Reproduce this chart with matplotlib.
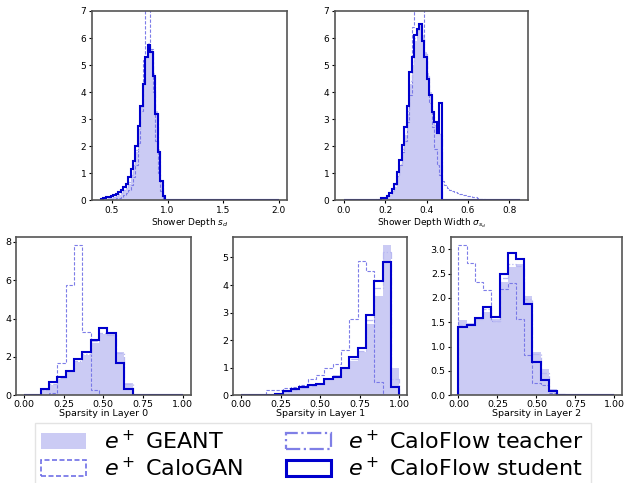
import numpy as np
import matplotlib
matplotlib.use("Agg")
import matplotlib.pyplot as plt
from matplotlib.patches import Patch

# ---- data: shower depth s_d (72 bins between 0.4 and 2.0) ----
sd_edges = np.linspace(0.4, 2.0, 73)
sd_geant = [0.03, 0.04, 0.05, 0.07, 0.09, 0.11, 0.15, 0.19, 0.25, 0.33, 0.44, 0.6,
            0.88, 1.25, 1.8, 2.6, 3.4, 4.3, 5.3, 5.8, 5.6, 4.7, 3.3, 1.9, 0.75, 0.15,
            0.02] + [0.0] * 45
sd_calogan = [0.01, 0.01, 0.02, 0.03, 0.04, 0.05, 0.07, 0.1, 0.14, 0.2, 0.27, 0.38,
              0.55, 0.85, 1.3, 2.1, 3.3, 5.2, 9.0, 8.6, 5.6, 4.0, 2.2, 1.0, 0.35, 0.05,
              0.01] + [0.0] * 45
sd_teacher = [0.04, 0.05, 0.06, 0.08, 0.1, 0.13, 0.17, 0.22, 0.28, 0.38, 0.5, 0.68,
              0.95, 1.3, 1.85, 2.65, 3.45, 4.3, 5.3, 5.7, 5.5, 4.6, 3.25, 1.85, 0.72,
              0.15, 0.02] + [0.0] * 45
sd_student = [0.06, 0.08, 0.11, 0.13, 0.16, 0.2, 0.25, 0.31, 0.38, 0.5, 0.62, 0.85,
              1.15, 1.45, 2.0, 2.75, 3.5, 4.3, 5.3, 5.75, 5.5, 4.6, 3.2, 1.8, 0.7, 0.15,
              0.02] + [0.0] * 45

# ---- data: shower depth width (70 bins between 0 and 0.85) ----
sw_edges = np.linspace(0.0, 0.85, 71)
sw_geant = [0.0] * 12 + [0.01, 0.02, 0.03, 0.05, 0.08, 0.13, 0.2, 0.32, 0.5, 0.85,
                         1.25, 1.8, 2.4, 3.2, 4.3, 5.0, 5.9, 6.3, 6.5, 6.1, 5.5, 4.7,
                         4.0, 3.3, 2.8, 2.45, 2.4] + [0.0] * 31
sw_calogan = [0.0] * 10 + [0.01, 0.01, 0.02, 0.03, 0.05, 0.08, 0.12, 0.2, 0.3, 0.45,
                           0.65, 0.9, 1.3, 1.8, 2.2, 2.9, 3.9, 6.4, 7.8, 8.3, 8.2, 7.6,
                           5.4, 4.5, 3.6, 2.7, 1.9, 1.3, 0.95, 0.7, 0.55, 0.45, 0.38,
                           0.33, 0.3, 0.27, 0.24, 0.21, 0.19, 0.17, 0.15, 0.13, 0.12,
                           0.1, 0.05, 0.03] + [0.01] * 14
sw_teacher = [0.0] * 12 + [0.01, 0.02, 0.03, 0.06, 0.09, 0.15, 0.24, 0.36, 0.55, 0.95,
                           1.35, 1.9, 2.5, 3.3, 4.4, 5.1, 6.0, 6.3, 6.45, 6.0, 5.4, 4.6,
                           3.9, 3.3, 2.8, 2.5, 2.45] + [0.0] * 31
sw_student = [0.0] * 15 + [0.07, 0.1, 0.17, 0.28, 0.4, 0.6, 1.05, 1.5, 2.05, 2.7, 3.5,
                           4.75, 5.3, 6.1, 6.35, 6.5, 5.9, 5.3, 4.5, 3.9, 3.25, 2.9, 2.5,
                           3.6] + [0.0] * 31

# ---- data: sparsity per layer (19 bins between 0 and 1) ----
sp_edges = np.linspace(0.0, 1.0, 20)
l0_geant = [0.0, 0.03, 0.25, 0.55, 0.85, 1.2, 1.75, 2.1, 2.75, 3.2, 3.2, 2.25, 0.65,
            0.02, 0.0, 0.0, 0.0, 0.0, 0.0]
l0_calogan = [0.0, 0.0, 0.0, 0.12, 1.7, 5.75, 7.85, 3.3, 0.25, 0.0, 0.0, 0.0, 0.0,
              0.0, 0.0, 0.0, 0.0, 0.0, 0.0]
l0_teacher = [0.0, 0.03, 0.3, 0.6, 0.9, 1.25, 1.8, 2.15, 2.85, 3.25, 3.15, 2.2, 0.6,
              0.02, 0.0, 0.0, 0.0, 0.0, 0.0]
l0_student = [0.0, 0.03, 0.33, 0.67, 0.95, 1.28, 1.88, 2.28, 2.9, 3.5, 3.27, 1.67,
              0.33, 0.0, 0.0, 0.0, 0.0, 0.0, 0.0]

l1_geant = [0.0, 0.0, 0.0, 0.02, 0.05, 0.12, 0.18, 0.25, 0.32, 0.38, 0.55, 0.72, 0.95,
            1.25, 1.57, 2.6, 3.62, 5.46, 1.0]
l1_calogan = [0.0, 0.0, 0.0, 0.18, 0.2, 0.28, 0.3, 0.38, 0.6, 0.72, 1.0, 1.12, 1.63,
              2.78, 4.88, 4.52, 0.48, 0.0, 0.0]
l1_teacher = [0.0, 0.0, 0.0, 0.02, 0.06, 0.13, 0.2, 0.27, 0.35, 0.4, 0.58, 0.7, 1.0,
              1.3, 1.6, 2.75, 3.9, 5.2, 0.6]
l1_student = [0.0, 0.0, 0.0, 0.02, 0.06, 0.14, 0.22, 0.29, 0.37, 0.42, 0.6, 0.66, 0.98,
              1.4, 1.72, 2.92, 4.16, 4.82, 0.3]

l2_geant = [1.55, 1.48, 1.58, 1.72, 1.56, 2.32, 2.64, 2.7, 2.03, 0.88, 0.53, 0.12, 0.02,
            0.01, 0.01, 0.01, 0.01, 0.01, 0.0]
l2_calogan = [3.09, 2.72, 2.32, 2.16, 1.52, 2.18, 2.31, 1.57, 0.82, 0.25, 0.22, 0.05,
              0.01, 0.01, 0.01, 0.01, 0.01, 0.01, 0.0]
l2_teacher = [1.45, 1.45, 1.57, 1.78, 1.53, 2.4, 2.7, 2.65, 1.98, 0.85, 0.45, 0.1, 0.02,
              0.01, 0.01, 0.01, 0.01, 0.01, 0.0]
l2_student = [1.4, 1.44, 1.58, 1.81, 1.61, 2.5, 2.92, 2.79, 1.87, 0.68, 0.32, 0.09,
              0.01, 0.01, 0.01, 0.01, 0.01, 0.01, 0.0]

labels = ["$e^+$ GEANT", "$e^+$ CaloGAN", "$e^+$ CaloFlow teacher", "$e^+$ CaloFlow student"]

FILL = (0.416, 0.416, 0.878, 0.35)
DASH = "#6f6fe6"
TEACH = "#b9b9f2"
STUD = "#0000cd"


def draw(ax, edges, geant, calogan, teacher, student):
    ax.stairs(geant, edges, fill=True, color=FILL, lw=0)
    ax.stairs(calogan, edges, color=DASH, ls=(0, (3, 1.5)), lw=0.8, alpha=0.9)
    ax.stairs(teacher, edges, color=TEACH, ls="-.", lw=0.9)
    ax.stairs(student, edges, color=STUD, lw=1.5)
    for s in ax.spines.values():
        s.set_color("#555555")
        s.set_linewidth(1.2)


fig = plt.figure(figsize=(6.29, 4.83), dpi=100)

ax1 = fig.add_axes([0.1463, 0.5853, 0.3107, 0.392])
draw(ax1, sd_edges, sd_geant, sd_calogan, sd_teacher, sd_student)
ax1.set_ylim(0, 7)
ax1.set_xticks([0.5, 1.0, 1.5, 2.0])
ax1.set_xlabel("Shower Depth $s_d$", fontsize=6.5, labelpad=1)
ax1.tick_params(labelsize=6.5, length=2.5, pad=1.5)

ax2 = fig.add_axes([0.5326, 0.5853, 0.3076, 0.392])
draw(ax2, sw_edges, sw_geant, sw_calogan, sw_teacher, sw_student)
ax2.set_ylim(0, 7)
ax2.set_xticks([0.0, 0.2, 0.4, 0.6, 0.8])
ax2.set_xlabel("Shower Depth Width $\\sigma_{s_d}$", fontsize=6.5, labelpad=1)
ax2.tick_params(labelsize=6.5, length=2.5, pad=1.5)

bottom = [
    ([0.0254, 0.1816, 0.2777, 0.3271], l0_geant, l0_calogan, l0_teacher, l0_student, 0),
    ([0.3709, 0.1816, 0.2766, 0.3271], l1_geant, l1_calogan, l1_teacher, l1_student, 1),
    ([0.7165, 0.1816, 0.2728, 0.3271], l2_geant, l2_calogan, l2_teacher, l2_student, 2),
]
for rect, g, c, t, s, n in bottom:
    ax = fig.add_axes(rect)
    draw(ax, sp_edges, g, c, t, s)
    ax.set_xticks([0.0, 0.25, 0.5, 0.75, 1.0])
    ax.set_xticklabels(["0.00", "0.25", "0.50", "0.75", "1.00"])
    ax.set_xlabel("Sparsity in Layer %d" % n, fontsize=6.8, labelpad=0)
    ax.tick_params(labelsize=6.8, length=2.5, pad=1)
    if n == 2:
        ax.set_yticks(np.arange(0, 3.01, 0.5))

handles = [
    Patch(facecolor=FILL, edgecolor="none"),
    Patch(facecolor="none", edgecolor=DASH, ls=(0, (3, 1.5)), lw=1.2),
    Patch(facecolor="none", edgecolor="#7f7fe6", ls="-.", lw=1.6),
    Patch(facecolor="none", edgecolor=STUD, lw=2.2),
]
fig.legend(handles, labels, loc="upper center", bbox_to_anchor=(0.497, 0.124), ncol=2,
           fontsize=16, frameon=True, handlelength=2.0, handleheight=0.75,
           columnspacing=1.95, borderpad=0.3, labelspacing=0.15, edgecolor="#dddddd",
           fancybox=False, borderaxespad=0)

fig.savefig("out.png", dpi=100)
